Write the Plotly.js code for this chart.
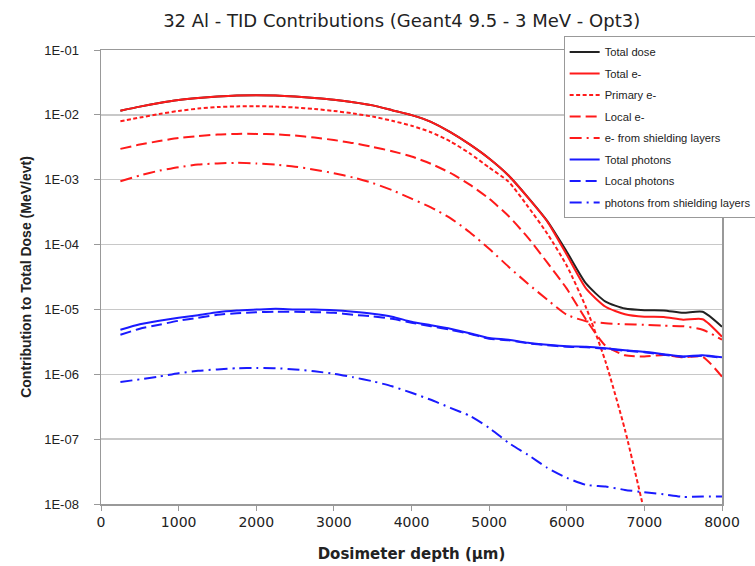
<!DOCTYPE html>
<html>
<head>
<meta charset="utf-8">
<script src="https://cdn.plot.ly/plotly-3.0.1.min.js"></script>
<style>html,body{margin:0;padding:0;background:#fff;}#chart{width:755px;height:566px;}</style>
</head>
<body>
<div id="chart"></div>
<script>
const depth = [250,500,750,1000,1250,1500,1750,2000,2250,2500,2750,3000,3250,3500,3750,4000,4250,4500,4750,5000,5250,5500,5750,6000,6250,6500,6750,7000,7250,7500,7750,8000];

const totalDose = [1.16e-2,1.34e-2,1.52e-2,1.69e-2,1.82e-2,1.92e-2,1.99e-2,2.01e-2,1.99e-2,1.92e-2,1.82e-2,1.71e-2,1.57e-2,1.40e-2,1.18e-2,9.9e-3,7.8e-3,5.4e-3,3.5e-3,2.12e-3,1.16e-3,5.35e-4,2.30e-4,7.77e-5,2.49e-5,1.32e-5,1.03e-5,9.72e-6,9.65e-6,8.89e-6,9.22e-6,5.41e-6];
const totalE = [1.16e-2,1.34e-2,1.52e-2,1.69e-2,1.82e-2,1.92e-2,1.99e-2,2.01e-2,1.99e-2,1.92e-2,1.82e-2,1.71e-2,1.57e-2,1.40e-2,1.18e-2,9.9e-3,7.8e-3,5.4e-3,3.5e-3,2.12e-3,1.16e-3,5.30e-4,2.26e-4,6.98e-5,2.09e-5,1.10e-5,8.43e-6,7.72e-6,7.64e-6,6.93e-6,7.06e-6,3.79e-6];
const primaryE = [7.96e-3,9.08e-3,1.03e-2,1.15e-2,1.25e-2,1.32e-2,1.35e-2,1.36e-2,1.34e-2,1.30e-2,1.23e-2,1.15e-2,1.05e-2,9.4e-3,8.1e-3,6.8e-3,5.4e-3,3.9e-3,2.55e-3,1.54e-3,9.35e-4,3.85e-4,1.47e-4,4.73e-5,1.06e-5,1.56e-6,1.39e-7,7.55e-9,null,null,null,null];
const localE = [2.99e-3,3.48e-3,3.94e-3,4.39e-3,4.71e-3,4.97e-3,5.09e-3,5.09e-3,5.00e-3,4.79e-3,4.47e-3,4.09e-3,3.67e-3,3.20e-3,2.75e-3,2.28e-3,1.76e-3,1.27e-3,8.4e-4,5.1e-4,2.75e-4,1.28e-4,5.26e-5,2.09e-5,6.93e-6,2.75e-6,1.97e-6,1.88e-6,1.99e-6,1.83e-6,1.86e-6,9.15e-7];
const shieldE = [9.45e-4,1.16e-3,1.38e-3,1.56e-3,1.71e-3,1.78e-3,1.82e-3,1.78e-3,1.71e-3,1.59e-3,1.43e-3,1.26e-3,1.08e-3,8.9e-4,6.9e-4,5.1e-4,3.75e-4,2.56e-4,1.55e-4,8.6e-5,4.56e-5,2.49e-5,1.41e-5,8.28e-6,6.58e-6,6.12e-6,5.91e-6,5.81e-6,5.60e-6,5.51e-6,4.86e-6,3.41e-6];
const totalPh = [4.86e-6,5.91e-6,6.69e-6,7.45e-6,8.14e-6,9.05e-6,9.62e-6,9.95e-6,1.025e-5,1.00e-5,9.95e-6,9.72e-6,9.22e-6,8.58e-6,7.72e-6,6.46e-6,5.71e-6,5.04e-6,4.30e-6,3.62e-6,3.41e-6,3.06e-6,2.85e-6,2.70e-6,2.66e-6,2.52e-6,2.34e-6,2.22e-6,2.04e-6,1.88e-6,1.97e-6,1.83e-6];
const localPh = [4.07e-6,5.04e-6,5.81e-6,6.69e-6,7.45e-6,8.28e-6,8.74e-6,9.05e-6,9.22e-6,9.22e-6,9.05e-6,8.89e-6,8.28e-6,7.80e-6,7.19e-6,6.23e-6,5.51e-6,4.86e-6,4.22e-6,3.53e-6,3.35e-6,3.01e-6,2.80e-6,2.66e-6,2.62e-6,2.47e-6,2.31e-6,2.19e-6,2.00e-6,1.86e-6,1.93e-6,1.80e-6];
const shieldPh = [7.58e-7,8.37e-7,9.25e-7,1.04e-6,1.13e-6,1.19e-6,1.24e-6,1.25e-6,1.24e-6,1.19e-6,1.11e-6,1.02e-6,8.99e-7,7.80e-7,6.53e-7,5.18e-7,4.04e-7,3.04e-7,2.29e-7,1.49e-7,8.77e-8,5.73e-8,3.61e-8,2.53e-8,1.97e-8,1.86e-8,1.65e-8,1.52e-8,1.41e-8,1.29e-8,1.30e-8,1.30e-8];

const seriesNames = ["Total dose","Total e-","Primary e-","Local e-","e- from shielding layers","Total photons","Local photons","photons from shielding layers"];
const yTickVals = [1e-8,1e-7,1e-6,1e-5,1e-4,1e-3,1e-2,1e-1];
const yTickText = ["1E-08","1E-07","1E-06","1E-05","1E-04","1E-03","1E-02","1E-01"];
const xTickVals = [0,1000,2000,3000,4000,5000,6000,7000,8000];

const RED = "#ff1a1a", BLUE = "#1a1aff", BLACK = "#222222";
const styles = [
  {color: BLACK, dash: "solid"},
  {color: RED, dash: "solid"},
  {color: RED, dash: "4px,2.5px"},
  {color: RED, dash: "11px,5px"},
  {color: RED, dash: "12px,5px,2px,5px"},
  {color: BLUE, dash: "solid"},
  {color: BLUE, dash: "11px,5px"},
  {color: BLUE, dash: "12px,5px,2px,5px"}
];
const ys = [totalDose,totalE,primaryE,localE,shieldE,totalPh,localPh,shieldPh];

const FONT = "Arial, 'Liberation Sans', sans-serif";
const WIDE = "'DejaVu Sans', Arial, sans-serif";
const traces = ys.map((y,i) => ({
  x: depth, y: y, name: seriesNames[i], type: "scatter", mode: "lines",
  legendgroup: "g"+i,
  connectgaps: false,
  line: {color: styles[i].color, dash: styles[i].dash, width: 2, shape: "spline", smoothing: 0.6}
}));

const layout = {
  width: 755, height: 566,
  margin: {l: 101, r: 33, t: 50, b: 62, autoexpand: false},
  paper_bgcolor: "#fff", plot_bgcolor: "#fff",
  font: {family: FONT, color: "#222", size: 13},
  title: {text: "32 Al - TID Contributions (Geant4 9.5 - 3 MeV - Opt3)", font: {family: WIDE, size: 18, color: "#222"},
          xref: "container", x: 0.532, xanchor: "center", yref: "container", y: 0.963, yanchor: "middle"},
  xaxis: {
    range: [0, 8000], tickvals: xTickVals, ticktext: xTickVals.map(String),
    showgrid: false, zeroline: false, showline: true, linecolor: "#999", linewidth: 1.5, mirror: true,
    ticks: "outside", ticklen: 5, tickcolor: "#999", tickfont: {size: 14, family: WIDE, color: "#222"},
    title: {text: "<b>Dosimeter depth (μm)</b>", font: {size: 15, family: WIDE, color: "#222"}, standoff: 19}
  },
  yaxis: {
    type: "log", range: [-8, -1], tickvals: yTickVals, ticktext: yTickText,
    showgrid: true, gridcolor: "#c8c8c8", gridwidth: 1.5, zeroline: false,
    showline: true, linecolor: "#999", linewidth: 1.5, mirror: true,
    ticks: "outside", ticklen: 6, tickcolor: "#999", ticklabelstandoff: 12,
    tickfont: {size: 13, family: FONT, color: "#222"},
    title: {text: "<b>Contribution to Total Dose (MeV/evt)</b>", font: {size: 14, family: FONT, color: "#222"}, standoff: 9}
  },
  showlegend: true,
  legend: {
    x: 0.745, y: 1.03, xanchor: "left", yanchor: "top", xref: "paper", yref: "paper",
    bgcolor: "#fff", bordercolor: "#999", borderwidth: 1,
    font: {size: 11.2, family: FONT, color: "#222"},
    itemwidth: 30, tracegroupgap: 2.5, traceorder: "grouped"
  }
};

Plotly.newPlot("chart", traces, layout, {staticPlot: true, displayModeBar: false});
</script>
</body>
</html>
